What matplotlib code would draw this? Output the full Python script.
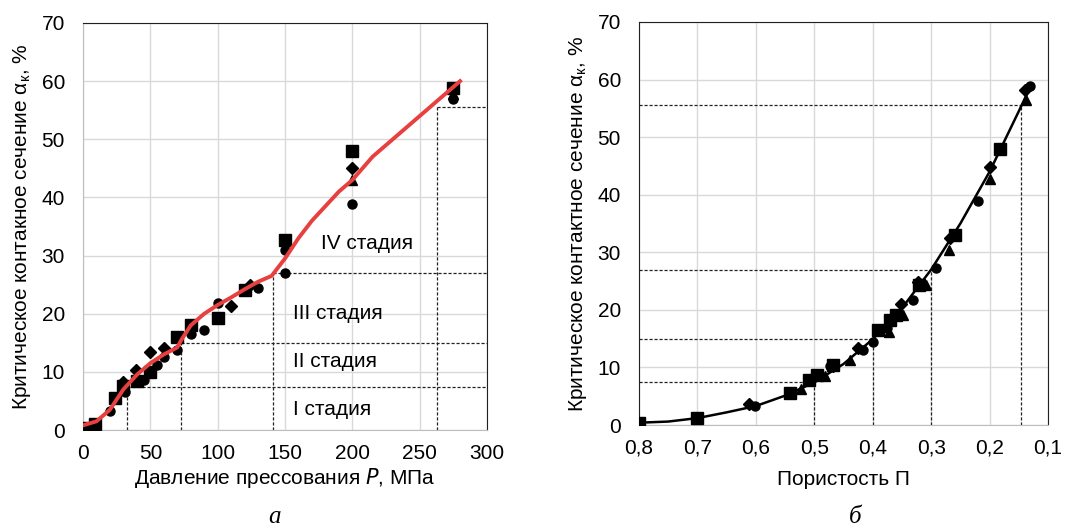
import matplotlib
matplotlib.use("Agg")
import matplotlib.pyplot as plt

plt.rcParams['font.family'] = ['Liberation Sans', 'DejaVu Sans']
plt.rcParams['font.size'] = 15

# --- панель а: давление прессования ---
sq_p = [0, 9, 24, 30, 40, 50, 70, 80, 100, 120, 150, 200, 275]
sq_a = [0.3, 1.1, 5.5, 7.5, 8.5, 10.0, 16.0, 18.0, 19.2, 24.0, 32.7, 48.0, 58.8]
ci_p = [20, 31, 45, 55, 60, 70, 80, 90, 100, 130, 150, 150, 200, 275]
ci_a = [3.2, 6.6, 8.6, 11.2, 12.6, 13.8, 16.5, 17.2, 21.8, 24.4, 30.9, 27.0, 38.9, 56.9]
di_p = [30, 39, 50, 60, 110, 124, 200, 275]
di_a = [8.3, 10.3, 13.5, 14.1, 21.4, 25.0, 45.0, 58.6]
tr_p = [200, 275]
tr_a = [43.0, 57.8]
fit_p = [0, 10, 20, 30, 40, 50, 60, 70, 73, 80, 90, 100, 110, 120, 130, 140,
         150, 160, 170, 180, 190, 200, 215, 230, 245, 260, 280]
fit_a = [0.8, 1.5, 3.5, 7.0, 9.5, 11.5, 13.0, 14.2, 15.5, 18.0, 20.0, 21.5, 22.8,
         24.2, 25.5, 26.5, 29.5, 33.0, 36.0, 38.5, 41.0, 43.0, 47.0, 50.0, 53.0, 56.0, 60.0]
stage_p = [33, 73, 141, 263]
stage_a = [7.4, 14.9, 27.0, 55.5]
stage_names = ['I стадия', 'II стадия', 'III стадия', 'IV стадия']
stage_text_p = [156, 156, 156, 177]
stage_text_a = [3.5, 11.8, 20.0, 32.0]

# --- панель б: пористость ---
sq_n = [0.8, 0.7, 0.542, 0.509, 0.496, 0.468, 0.391, 0.371, 0.36, 0.32, 0.26, 0.182]
sq_b = [0.4, 1.2, 5.6, 7.8, 8.7, 10.4, 16.5, 18.2, 19.1, 24.3, 33.0, 48.0]
ci_n = [0.602, 0.501, 0.473, 0.417, 0.399, 0.376, 0.331, 0.291, 0.22, 0.13]
ci_b = [3.3, 8.4, 10.3, 13.0, 14.5, 16.8, 21.7, 27.2, 38.9, 58.8]
di_n = [0.611, 0.468, 0.425, 0.351, 0.322, 0.267, 0.2, 0.14]
di_b = [3.6, 10.2, 13.3, 21.1, 24.9, 32.4, 44.8, 58.1]
tr_n = [0.522, 0.482, 0.439, 0.373, 0.348, 0.308, 0.27, 0.2, 0.138]
tr_b = [6.2, 8.5, 11.3, 16.2, 19.1, 24.3, 30.4, 42.8, 56.4]
fit_n = [0.8, 0.75, 0.7, 0.65, 0.6, 0.55, 0.5, 0.45, 0.4, 0.35, 0.3, 0.25, 0.2, 0.15, 0.13]
fit_b = [0.4, 0.6, 1.2, 2.2, 3.3, 5.1, 7.4, 10.6, 14.9, 20.3, 27.0, 35.0, 44.0, 54.5, 58.8]
stage_n = [0.5, 0.4, 0.3, 0.1455]
stage_b = [7.4, 14.9, 27.0, 55.5]

fig = plt.figure(figsize=(10.77, 5.31), dpi=100)
ax1 = fig.add_axes([0.0771, 0.1902, 0.3751, 0.7665])
ax2 = fig.add_axes([0.5933, 0.1996, 0.3798, 0.7590])

dash = dict(color='#222222', lw=0.9, ls=(0, (2.5, 1.5)), zorder=2)


def style(ax):
    ax.grid(True, color='#d9d9d9', lw=1.0)
    ax.set_axisbelow(True)
    ax.tick_params(length=0, labelsize=15)
    ax.tick_params(axis='y', pad=13)
    ax.tick_params(axis='x', pad=10)
    for s in ['top', 'right']:
        ax.spines[s].set_color('#202020')
    ax.spines['left'].set_color('#bdbdbd')
    ax.spines['bottom'].set_color('#bdbdbd')


# панель а
for p, a in zip(stage_p, stage_a):
    ax1.plot([p, 300], [a, a], **dash)
    ax1.plot([p, p], [0, a], **dash)
ax1.plot(sq_p, sq_a, 's', color='black', ms=9, zorder=3)
ax1.plot(ci_p, ci_a, 'o', color='black', ms=6.5, zorder=3)
ax1.plot(di_p, di_a, 'D', color='black', ms=6.5, zorder=3)
ax1.plot(tr_p, tr_a, '^', color='black', ms=7, zorder=3)
ax1.plot(fit_p, fit_a, color='#e8403f', lw=2.8, zorder=4)
for t, p, a in zip(stage_names, stage_text_p, stage_text_a):
    ax1.text(p, a, t, fontsize=15, va='center', ha='left')
ax1.set_xlim(0, 300)
ax1.set_ylim(0, 70)
ax1.set_xticks(range(0, 301, 50))
ax1.set_yticks(range(0, 71, 10))
style(ax1)
ax1.set_xlabel('Давление прессования $\\mathit{P}$, МПа', fontsize=15, labelpad=2)
ax1.set_ylabel('Критическое контакное сечение $\\mathregular{α_к}$, %', fontsize=15, labelpad=6)

# панель б
for n, b in zip(stage_n, stage_b):
    ax2.plot([0.8, n], [b, b], **dash)
    ax2.plot([n, n], [0, b], **dash)
ax2.plot(fit_n, fit_b, color='black', lw=1.8, zorder=3)
ax2.plot(sq_n, sq_b, 's', color='black', ms=8.5, zorder=4)
ax2.plot(ci_n, ci_b, 'o', color='black', ms=6.5, zorder=4)
ax2.plot(di_n, di_b, 'D', color='black', ms=6, zorder=4)
ax2.plot(tr_n, tr_b, '^', color='black', ms=7.5, zorder=4)
ax2.set_xlim(0.8, 0.1)
ax2.set_ylim(0, 70)
xt = [0.8, 0.7, 0.6, 0.5, 0.4, 0.3, 0.2, 0.1]
ax2.set_xticks(xt)
ax2.set_xticklabels([f'{v:.1f}'.replace('.', ',') for v in xt])
ax2.set_yticks(range(0, 71, 10))
style(ax2)
ax2.spines['left'].set_color('#202020')
ax2.set_xlabel('Пористость П', fontsize=15, labelpad=9)
ax2.set_ylabel('Критическое контактное сечение $\\mathregular{α_к}$, %', fontsize=15, labelpad=6)

fig.text(0.255, 0.015, 'а', fontsize=18, style='italic', family='Liberation Serif', ha='center')
fig.text(0.794, 0.015, 'б', fontsize=18, style='italic', family='Liberation Serif', ha='center')

fig.savefig('out.png', dpi=100)
